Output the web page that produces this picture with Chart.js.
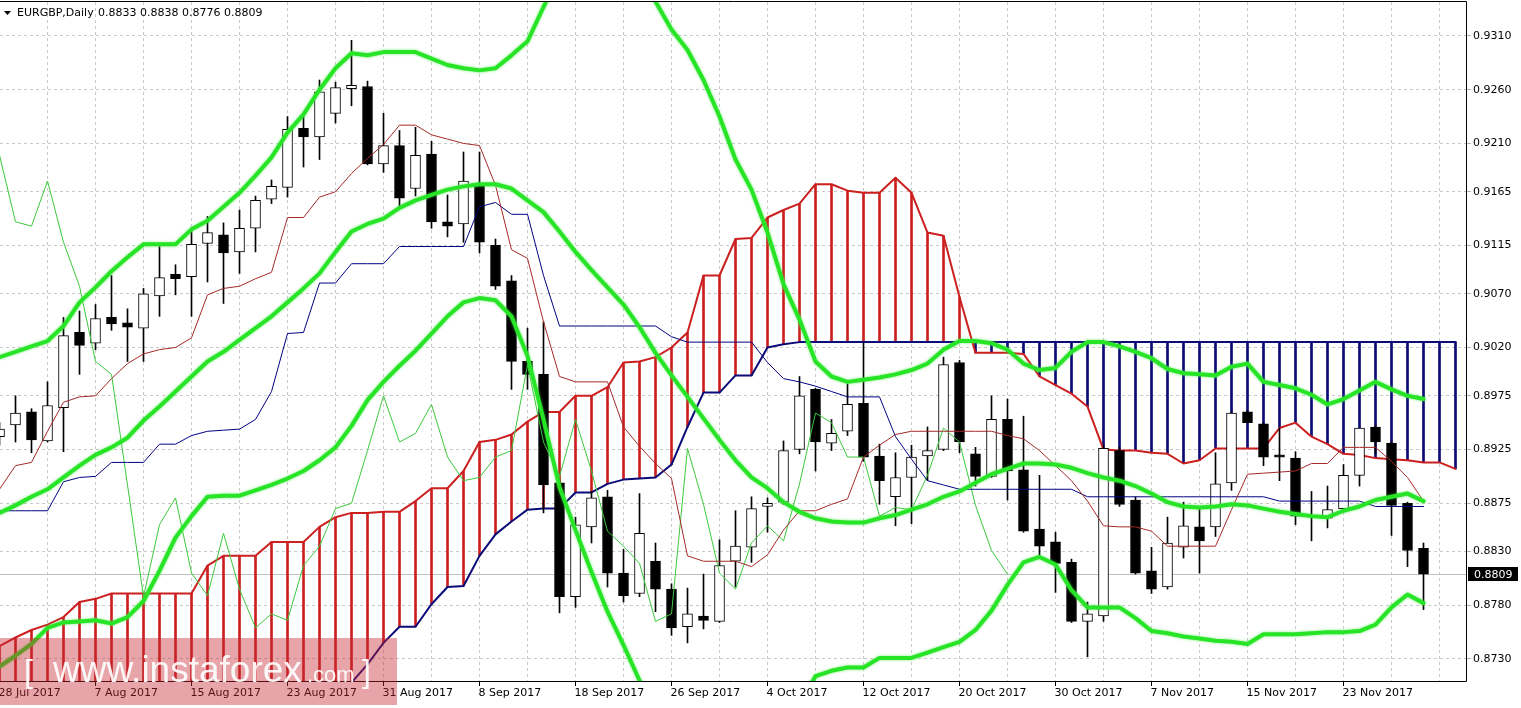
<!DOCTYPE html>
<html>
<head>
<meta charset="utf-8">
<title>EURGBP Daily</title>
<script src="https://cdn.jsdelivr.net/npm/chart.js@4.4.0/dist/chart.umd.min.js"></script>
<style>
  html, body { margin: 0; padding: 0; background: #fff; overflow: hidden; }
  #c { display: block; }
</style>
</head>
<body>
<canvas id="c" width="1521" height="708"></canvas>
<script>
// EURGBP daily, 28 Jul 2017 - 30 Nov 2017, one entry per bar
const dateLabels = ['28 Jul 2017', '7 Aug 2017', '15 Aug 2017', '23 Aug 2017', '31 Aug 2017', '8 Sep 2017',
    '18 Sep 2017', '26 Sep 2017', '4 Oct 2017', '12 Oct 2017', '20 Oct 2017', '30 Oct 2017',
    '7 Nov 2017', '15 Nov 2017', '23 Nov 2017'];

const opens = [
    0.8937, 0.8948, 0.8960, 0.8933, 0.8964, 0.9034, 0.9024, 0.9048, 0.9043, 0.9038,
    0.9068, 0.9088, 0.9086, 0.9117, 0.9125, 0.9109, 0.9131, 0.9158, 0.9169, 0.9224,
    0.9216, 0.9238, 0.9261, 0.9263, 0.9191, 0.9208, 0.9168, 0.9200, 0.9137, 0.9135,
    0.9170, 0.9115, 0.9082, 0.9007, 0.8995, 0.8894, 0.8788, 0.8853, 0.8881, 0.8810,
    0.8791, 0.8821, 0.8795, 0.8760, 0.8770, 0.8765, 0.8821, 0.8834, 0.8872, 0.8876,
    0.8925, 0.8981, 0.8931, 0.8942, 0.8968, 0.8919, 0.8881, 0.8899, 0.8919, 0.8925,
    0.9006, 0.8921, 0.8900, 0.8953, 0.8906, 0.8851, 0.8839, 0.8820, 0.8765, 0.8770,
    0.8924, 0.8878, 0.8812, 0.8797, 0.8834, 0.8853, 0.8853, 0.8894, 0.8960, 0.8949,
    0.8920, 0.8917, 0.8871, 0.8861, 0.8870, 0.8901, 0.8946, 0.8931, 0.8875, 0.8833
];
const highs = [
    0.8950, 0.8975, 0.8963, 0.8988, 0.9048, 0.9054, 0.9060, 0.9087, 0.9056, 0.9075,
    0.9114, 0.9097, 0.9131, 0.9142, 0.9136, 0.9148, 0.9161, 0.9176, 0.9235, 0.9235,
    0.9269, 0.9267, 0.9306, 0.9268, 0.9238, 0.9222, 0.9225, 0.9212, 0.9162, 0.9202,
    0.9202, 0.9121, 0.9087, 0.9038, 0.9044, 0.8897, 0.8862, 0.8886, 0.8887, 0.8832,
    0.8884, 0.8838, 0.8800, 0.8796, 0.8809, 0.8841, 0.8868, 0.8881, 0.8880, 0.8933,
    0.8993, 0.8982, 0.8953, 0.8986, 0.9024, 0.8930, 0.8922, 0.8929, 0.8946, 0.9011,
    0.9008, 0.8927, 0.8975, 0.8972, 0.8956, 0.8901, 0.8848, 0.8823, 0.8783, 0.8929,
    0.8927, 0.8881, 0.8834, 0.8862, 0.8876, 0.8872, 0.8922, 0.8960, 0.8961, 0.8950,
    0.8945, 0.8923, 0.8886, 0.8891, 0.8911, 0.8945, 0.8947, 0.8932, 0.8876, 0.8838
];
const lows = [
    0.8929, 0.8932, 0.8922, 0.8932, 0.8923, 0.8995, 0.9018, 0.9036, 0.9007, 0.9007,
    0.9049, 0.9069, 0.9049, 0.9081, 0.9061, 0.9089, 0.9109, 0.9154, 0.9160, 0.9188,
    0.9195, 0.9229, 0.9245, 0.9190, 0.9183, 0.9150, 0.9161, 0.9131, 0.9123, 0.9118,
    0.9108, 0.9074, 0.8981, 0.8981, 0.8866, 0.8773, 0.8778, 0.8838, 0.8797, 0.8783,
    0.8788, 0.8774, 0.8752, 0.8745, 0.8758, 0.8764, 0.8797, 0.8820, 0.8848, 0.8874,
    0.8921, 0.8905, 0.8924, 0.8938, 0.8914, 0.8874, 0.8854, 0.8856, 0.8896, 0.8924,
    0.8922, 0.8891, 0.8899, 0.8878, 0.8848, 0.8825, 0.8792, 0.8764, 0.8732, 0.8765,
    0.8872, 0.8809, 0.8791, 0.8795, 0.8824, 0.8810, 0.8844, 0.8887, 0.8950, 0.8910,
    0.8896, 0.8855, 0.8840, 0.8852, 0.8867, 0.8891, 0.8921, 0.8845, 0.8816, 0.8776
];
const closes = [
    0.8944, 0.8959, 0.8934, 0.8966, 0.9031, 0.9022, 0.9047, 0.9042, 0.9039, 0.9070,
    0.9085, 0.9084, 0.9116, 0.9127, 0.9108, 0.9131, 0.9157, 0.9170, 0.9223, 0.9216,
    0.9258, 0.9262, 0.9264, 0.9191, 0.9208, 0.9159, 0.9199, 0.9137, 0.9133, 0.9175,
    0.9118, 0.9077, 0.9007, 0.8995, 0.8892, 0.8788, 0.8855, 0.8880, 0.8810, 0.8789,
    0.8847, 0.8795, 0.8759, 0.8772, 0.8766, 0.8817, 0.8835, 0.8870, 0.8875, 0.8924,
    0.8975, 0.8932, 0.8940, 0.8967, 0.8918, 0.8896, 0.8899, 0.8918, 0.8924, 0.9004,
    0.8932, 0.8900, 0.8953, 0.8905, 0.8849, 0.8835, 0.8819, 0.8765, 0.8772, 0.8926,
    0.8874, 0.8810, 0.8795, 0.8838, 0.8854, 0.8840, 0.8893, 0.8959, 0.8950, 0.8918,
    0.8918, 0.8863, 0.8871, 0.8869, 0.8901, 0.8945, 0.8932, 0.8873, 0.8831, 0.8809
];

// Ichimoku
const tenkan = [
    0.8888, 0.8910, 0.8913, 0.8942, 0.8969, 0.8974, 0.8975, 0.8991, 0.9005, 0.9014,
    0.9018, 0.9020, 0.9029, 0.9069, 0.9075, 0.9077, 0.9084, 0.9090, 0.9141, 0.9141,
    0.9160, 0.9165, 0.9182, 0.9196, 0.9209, 0.9227, 0.9227, 0.9218, 0.9214, 0.9210,
    0.9208, 0.9171, 0.9111, 0.9103, 0.9044, 0.8993, 0.8988, 0.8988, 0.8988, 0.8946,
    0.8928, 0.8912, 0.8898, 0.8826, 0.8821, 0.8821, 0.8821, 0.8816, 0.8827, 0.8850,
    0.8868, 0.8868, 0.8874, 0.8879, 0.8918, 0.8929, 0.8939, 0.8942, 0.8942, 0.8942,
    0.8942, 0.8942, 0.8942, 0.8938, 0.8935, 0.8924, 0.8910, 0.8896, 0.8877, 0.8854,
    0.8853, 0.8853, 0.8849, 0.8835, 0.8835, 0.8835, 0.8835, 0.8869, 0.8902, 0.8903,
    0.8904, 0.8905, 0.8912, 0.8912, 0.8927, 0.8927, 0.8927, 0.8914, 0.8899, 0.8877
];
const kijun = [
    0.8868, 0.8868, 0.8868, 0.8868, 0.8895, 0.8899, 0.8900, 0.8913, 0.8913, 0.8913,
    0.8930, 0.8930, 0.8938, 0.8942, 0.8943, 0.8944, 0.8953, 0.8979, 0.9033, 0.9034,
    0.9080, 0.9080, 0.9098, 0.9098, 0.9098, 0.9114, 0.9114, 0.9114, 0.9114, 0.9114,
    0.9151, 0.9155, 0.9144, 0.9144, 0.9087, 0.9040, 0.9040, 0.9040, 0.9040, 0.9040,
    0.9040, 0.9040, 0.9030, 0.9025, 0.9025, 0.9025, 0.9025, 0.9025, 0.9006, 0.8991,
    0.8988, 0.8984, 0.8979, 0.8974, 0.8974, 0.8974, 0.8937, 0.8916, 0.8896, 0.8892,
    0.8888, 0.8888, 0.8888, 0.8888, 0.8888, 0.8888, 0.8888, 0.8888, 0.8881, 0.8881,
    0.8881, 0.8881, 0.8881, 0.8881, 0.8881, 0.8881, 0.8881, 0.8881, 0.8881, 0.8881,
    0.8877, 0.8877, 0.8877, 0.8877, 0.8877, 0.8877, 0.8872, 0.8872, 0.8872, 0.8872
];
// senkou spans run two bars past the last candle (cut by the chart edge)
const spanA = [
    0.8742, 0.8750, 0.8757, 0.8762, 0.8769, 0.8783, 0.8786, 0.8791, 0.8791, 0.8791,
    0.8791, 0.8791, 0.8791, 0.8817, 0.8826, 0.8826, 0.8826, 0.8839, 0.8839, 0.8839,
    0.8853, 0.8862, 0.8866, 0.8866, 0.8867, 0.8867, 0.8877, 0.8889, 0.8889, 0.8905,
    0.8932, 0.8934, 0.8939, 0.8951, 0.8960, 0.8960, 0.8975, 0.8975, 0.8983, 0.9006,
    0.9007, 0.9011, 0.9020, 0.9034, 0.9087, 0.9087, 0.9121, 0.9122, 0.9141, 0.9148,
    0.9154, 0.9172, 0.9172, 0.9166, 0.9164, 0.9164, 0.9178, 0.9164, 0.9127, 0.9124,
    0.9067, 0.9015, 0.9015, 0.9015, 0.9014, 0.8993, 0.8985, 0.8977, 0.8965, 0.8925,
    0.8924, 0.8924, 0.8922, 0.8921, 0.8912, 0.8915, 0.8926, 0.8926, 0.8926, 0.8926,
    0.8945, 0.8950, 0.8937, 0.8930, 0.8921, 0.8920, 0.8917, 0.8916, 0.8915, 0.8913,
    0.8913, 0.8907
];
const spanB = [
    0.8690, 0.8690, 0.8690, 0.8690, 0.8690, 0.8690, 0.8690, 0.8690, 0.8690, 0.8690,
    0.8690, 0.8690, 0.8690, 0.8690, 0.8690, 0.8690, 0.8690, 0.8690, 0.8690, 0.8690,
    0.8695, 0.8700, 0.8708, 0.8725, 0.8745, 0.8760, 0.8760, 0.8781, 0.8797, 0.8798,
    0.8826, 0.8846, 0.8858, 0.8869, 0.8870, 0.8870, 0.8885, 0.8885, 0.8893, 0.8897,
    0.8898, 0.8899, 0.8911, 0.8946, 0.8978, 0.8978, 0.8994, 0.8994, 0.9020, 0.9023,
    0.9025, 0.9025, 0.9025, 0.9025, 0.9025, 0.9025, 0.9025, 0.9025, 0.9025, 0.9025,
    0.9025, 0.9025, 0.9025, 0.9025, 0.9025, 0.9025, 0.9025, 0.9025, 0.9025, 0.9025,
    0.9025, 0.9025, 0.9025, 0.9025, 0.9025, 0.9025, 0.9025, 0.9025, 0.9025, 0.9025,
    0.9025, 0.9025, 0.9025, 0.9025, 0.9025, 0.9025, 0.9025, 0.9025, 0.9025, 0.9025,
    0.9025, 0.9025
];

// Bollinger bands
const bbUpper = [
    0.9011, 0.9016, 0.9021, 0.9026, 0.9040, 0.9062, 0.9076, 0.9091, 0.9104, 0.9116,
    0.9116, 0.9116, 0.9130, 0.9138, 0.9151, 0.9164, 0.9180, 0.9197, 0.9220, 0.9237,
    0.9260, 0.9280, 0.9294, 0.9292, 0.9295, 0.9295, 0.9295, 0.9289, 0.9283, 0.9280,
    0.9278, 0.9280, 0.9292, 0.9305, 0.9337, 0.9367, 0.9368, 0.9373, 0.9379, 0.9376,
    0.9368, 0.9342, 0.9316, 0.9297, 0.9269, 0.9235, 0.9195, 0.9167, 0.9127, 0.9079,
    0.9046, 0.9007, 0.8993, 0.8988, 0.8990, 0.8992, 0.8995, 0.8999, 0.9005, 0.9018,
    0.9026, 0.9026, 0.9024, 0.9018, 0.9005, 0.8999, 0.9001, 0.9016, 0.9025, 0.9025,
    0.9021, 0.9016, 0.9010, 0.9000, 0.8996, 0.8995, 0.8994, 0.9002, 0.9005, 0.8988,
    0.8985, 0.8982, 0.8976, 0.8967, 0.8972, 0.8980, 0.8988, 0.8981, 0.8975, 0.8972
];
const bbMiddle = [
    0.8866, 0.8873, 0.8881, 0.8888, 0.8899, 0.8910, 0.8920, 0.8927, 0.8936, 0.8952,
    0.8965, 0.8979, 0.8993, 0.9007, 0.9016, 0.9027, 0.9038, 0.9049, 0.9062, 0.9075,
    0.9089, 0.9109, 0.9128, 0.9135, 0.9140, 0.9150, 0.9157, 0.9162, 0.9167, 0.9170,
    0.9172, 0.9172, 0.9168, 0.9157, 0.9146, 0.9128, 0.9109, 0.9092, 0.9076, 0.9060,
    0.9039, 0.9015, 0.8994, 0.8974, 0.8954, 0.8934, 0.8915, 0.8899, 0.8889, 0.8876,
    0.8867, 0.8861, 0.8858, 0.8857, 0.8857, 0.8861, 0.8864, 0.8869, 0.8874, 0.8881,
    0.8886, 0.8894, 0.8902, 0.8907, 0.8912, 0.8912, 0.8911, 0.8908, 0.8903, 0.8899,
    0.8896, 0.8891, 0.8884, 0.8876, 0.8872, 0.8871, 0.8872, 0.8874, 0.8873, 0.8870,
    0.8867, 0.8865, 0.8863, 0.8862, 0.8868, 0.8872, 0.8878, 0.8881, 0.8884, 0.8877
];
const bbLower = [
    0.8723, 0.8733, 0.8744, 0.8759, 0.8764, 0.8765, 0.8766, 0.8763, 0.8769, 0.8784,
    0.8812, 0.8843, 0.8863, 0.8881, 0.8882, 0.8882, 0.8887, 0.8892, 0.8898, 0.8905,
    0.8915, 0.8927, 0.8947, 0.8971, 0.8988, 0.9003, 0.9017, 0.9033, 0.9049, 0.9062,
    0.9066, 0.9064, 0.9049, 0.9012, 0.8953, 0.8890, 0.8850, 0.8811, 0.8774, 0.8743,
    0.8710, 0.8686, 0.8673, 0.8651, 0.8640, 0.8633, 0.8636, 0.8632, 0.8652, 0.8673,
    0.8688, 0.8714, 0.8719, 0.8722, 0.8722, 0.8731, 0.8731, 0.8731, 0.8736, 0.8741,
    0.8746, 0.8757, 0.8775, 0.8799, 0.8820, 0.8825, 0.8818, 0.8794, 0.8778, 0.8778,
    0.8778, 0.8768, 0.8756, 0.8754, 0.8751, 0.8749, 0.8747, 0.8746, 0.8744, 0.8753,
    0.8753, 0.8753, 0.8754, 0.8755, 0.8755, 0.8756, 0.8762, 0.8778, 0.8790, 0.8782
];

const priceTicks = [0.9310, 0.9260, 0.9210, 0.9165, 0.9115, 0.9070, 0.9020,
    0.8975, 0.8925, 0.8875, 0.8830, 0.8780, 0.8730];
const lastPrice = 0.8809;

// chikou span = close drawn 26 bars back
const chikou = closes.slice(26);

const FONT = '"DejaVu Sans", sans-serif';
const RED = '#cc1f1f';
const NAVY = '#0a0a78';
const LIME = '#27e427';

const pts = arr => arr.map((v, i) => ({ x: i, y: v }));

function lineSet(label, data, color, width, order) {
    return {
        type: 'line', label, data: pts(data), borderColor: color, borderWidth: width,
        pointRadius: 0, tension: 0, fill: false, order, clip: 0,
        borderJoinStyle: 'round', borderCapStyle: 'round'
    };
}

const datasets = [
    {
        type: 'bar', label: 'cloud',
        data: spanA.map((a, i) => ({ x: i, y: [a, spanB[i]] })),
        backgroundColor: spanA.map((a, i) => a >= spanB[i] ? RED : NAVY),
        barThickness: 2, grouped: false, order: 10, clip: 0
    },
    lineSet('Senkou A', spanA, RED, 2, 9),
    lineSet('Senkou B', spanB, NAVY, 2, 9),
    {
        type: 'bar', label: 'wick',
        data: lows.map((l, i) => ({ x: i, y: [l, highs[i]] })),
        backgroundColor: '#000', barThickness: 1, grouped: false, order: 8, clip: 0
    },
    {
        type: 'bar', label: 'body',
        data: opens.map((o, i) => ({ x: i, y: [o, closes[i]] })),
        backgroundColor: opens.map((o, i) => closes[i] >= o ? '#fff' : '#000'),
        borderColor: '#000', borderWidth: 1, borderSkipped: false,
        barThickness: 10, grouped: false, order: 7, clip: 0
    },
    lineSet('Tenkan', tenkan, '#a32a2a', 1, 4),
    lineSet('Kijun', kijun, '#000080', 1, 4),
    lineSet('Chikou', chikou, '#3cc83c', 1, 4),
    lineSet('BB upper', bbUpper, LIME, 4, 2),
    lineSet('BB middle', bbMiddle, LIME, 4, 2),
    lineSet('BB lower', bbLower, LIME, 4, 2)
];

// 16 px per bar, bar 0 sits on the left edge of the plot
const xMin = 1 / 32;
const xMax = xMin + 1467 / 16;
const yMin = 0.87095;
const yMax = 0.934165;
const gridBars = [];
for (let b = 0; b <= 90; b += 3) gridBars.push(b);

// soft halo round the thick band lines, like the terminal draws them
const glow = {
    id: 'glow',
    beforeDatasetDraw(chart, args) {
        if (!args.meta.label || !args.meta.label.startsWith('BB')) return;
        const ctx = chart.ctx;
        ctx.save();
        ctx.shadowColor = 'rgba(70,235,70,0.7)';
        ctx.shadowBlur = 3;
    },
    afterDatasetDraw(chart, args) {
        if (!args.meta.label || !args.meta.label.startsWith('BB')) return;
        chart.ctx.restore();
    }
};

const decor = {
    id: 'decor',
    beforeDatasetsDraw(chart) {
        const { ctx, chartArea: a, scales: { y } } = chart;
        const py = Math.round(y.getPixelForValue(lastPrice)) + 0.5;
        ctx.save();
        ctx.strokeStyle = '#c0c0c0';
        ctx.lineWidth = 1;
        ctx.beginPath();
        ctx.moveTo(a.left, py);
        ctx.lineTo(a.right, py);
        ctx.stroke();
        ctx.restore();
    },
    afterDraw(chart) {
        const { ctx, chartArea: a, scales: { y } } = chart;
        ctx.save();
        // frame
        ctx.strokeStyle = '#000';
        ctx.lineWidth = 1;
        ctx.beginPath();
        ctx.moveTo(0, a.top - 0.5);
        ctx.lineTo(a.right - 0.5, a.top - 0.5);
        ctx.lineTo(a.right - 0.5, a.bottom + 0.5);
        ctx.lineTo(0, a.bottom + 0.5);
        ctx.stroke();

        // last price tag
        const py = Math.round(y.getPixelForValue(lastPrice));
        ctx.fillStyle = '#000';
        ctx.fillRect(a.right + 1, py - 7, 50, 14);
        ctx.fillStyle = '#fff';
        ctx.font = '11px ' + FONT;
        ctx.textBaseline = 'middle';
        ctx.textAlign = 'left';
        ctx.fillText(lastPrice.toFixed(4), a.right + 7, py + 1);

        // header
        ctx.fillStyle = '#000';
        ctx.beginPath();
        ctx.moveTo(4, 11);
        ctx.lineTo(11, 11);
        ctx.lineTo(7.5, 15);
        ctx.closePath();
        ctx.fill();
        ctx.fillText('EURGBP,Daily', 17, 13);
        ctx.fillText([opens[89], highs[89], lows[89], closes[89]].map(v => v.toFixed(4)).join(' '), 98, 13);

        // watermark
        ctx.fillStyle = 'rgba(200,40,50,0.42)';
        ctx.fillRect(0, 638, 397, 67);
        ctx.fillStyle = 'rgba(255,255,255,0.92)';
        ctx.textBaseline = 'alphabetic';
        ctx.font = '32px "Liberation Sans"';
        ctx.fillText('[', 24, 682);
        ctx.fillText(']', 362, 682);
        ctx.font = '37px "Liberation Sans"';
        ctx.fillText('www.instaforex', 53, 682);
        ctx.font = '22px "Liberation Sans"';
        ctx.fillText('.com', 307, 682);
        ctx.restore();
    }
};

new Chart(document.getElementById('c'), {
    type: 'bar',
    data: { datasets },
    options: {
        responsive: false,
        animation: false,
        events: [],
        layout: { padding: { top: 2, left: 0, right: 0, bottom: 0 } },
        plugins: { legend: { display: false }, tooltip: { enabled: false }, title: { display: false } },
        scales: {
            x: {
                type: 'linear', min: xMin, max: xMax, offset: false, bounds: 'data',
                afterBuildTicks: s => { s.ticks = gridBars.map(v => ({ value: v })); },
                afterFit: s => { s.height = 27; s.paddingLeft = 0; s.paddingRight = 0; },
                grid: {
                    offset: false, lineWidth: 1, tickLength: 5, tickWidth: 1,
                    color: c => (c.tick && c.tick.value === 0) ? 'rgba(0,0,0,0)' : '#c8c8c8',
                    tickColor: c => (c.tick && c.tick.value % 6 === 0 && c.tick.value <= 84) ? '#000' : 'rgba(0,0,0,0)'
                },
                border: { display: false, dash: [3, 3] },
                ticks: {
                    autoSkip: false, maxRotation: 0, minRotation: 0, align: 'start', padding: 1, labelOffset: -1,
                    color: '#000', font: { family: FONT, size: 11 },
                    callback: v => (v % 6 === 0 && v / 6 < dateLabels.length) ? dateLabels[v / 6] : ''
                }
            },
            y: {
                type: 'linear', position: 'right', min: yMin, max: yMax, bounds: 'data',
                afterBuildTicks: s => { s.ticks = priceTicks.map(v => ({ value: v })); },
                afterFit: s => { s.width = 54; s.paddingTop = 0; s.paddingBottom = 0; },
                grid: { color: '#c8c8c8', lineWidth: 1, tickLength: 4, tickColor: '#b0b0b0' },
                border: { display: false, dash: [3, 3] },
                ticks: {
                    padding: 2, color: '#000', font: { family: FONT, size: 11 },
                    callback: v => Number(v).toFixed(4)
                }
            }
        }
    },
    plugins: [glow, decor]
});
</script>
</body>
</html>
